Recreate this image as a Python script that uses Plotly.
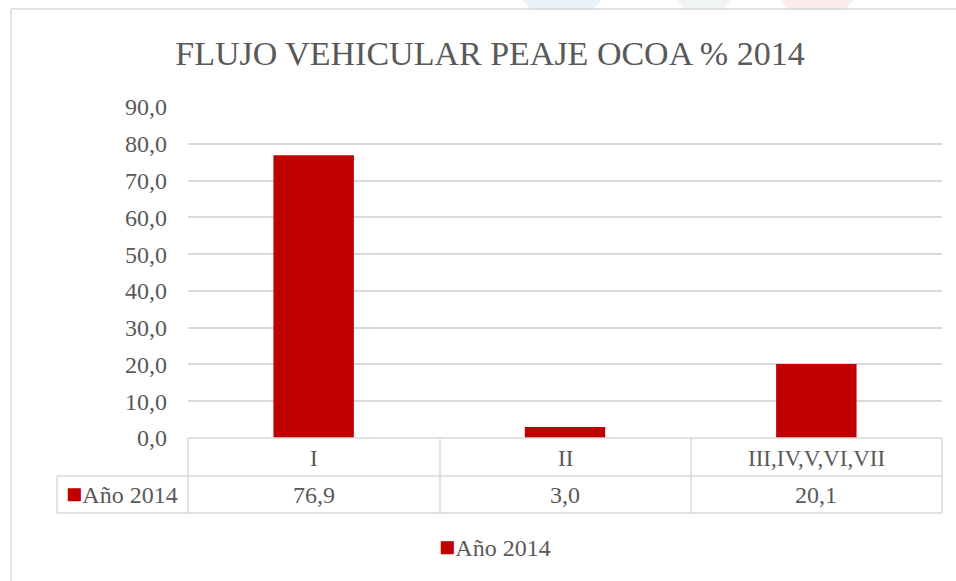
import plotly.graph_objects as go

categories = ["I", "II", "III,IV,V,VI,VII"]
values = [76.9, 3.0, 20.1]
series_name = "Año 2014"
title_text = "FLUJO VEHICULAR PEAJE OCOA % 2014"

W, H = 956, 581
# plot area in page pixels
L, R, T, B = 188, 942, 107, 438
pw, ph = R - L, B - T

def px_x(px):
    return (px - L) / pw

def px_y(py):
    return (B - py) / ph

bar_color = "#C00000"
grid = "#D9D9D9"
txt = "#595959"
font_main = "Liberation Serif"

fig = go.Figure()
fig.add_trace(go.Bar(x=categories, y=values, name=series_name,
                     marker=dict(color=bar_color, line=dict(width=0)),
                     width=0.32, showlegend=False, hoverinfo="skip"))

shapes = []
# faint background shapes at top
for x0, x1, col in [(522, 602, "rgba(120,180,230,0.18)"), (676, 732, "rgba(150,180,170,0.14)"),
                    (780, 854, "rgba(230,120,120,0.14)")]:
    shapes.append(dict(type="path", xref="paper", yref="paper",
                       path=f"M {px_x(x0)} {px_y(0)} L {px_x(x1)} {px_y(0)} L {px_x(x1-10)} {px_y(10)} L {px_x(x0+10)} {px_y(10)} Z",
                       fillcolor=col, line=dict(width=0), layer="below"))
# outer frame
shapes.append(dict(type="line", xref="paper", yref="paper", x0=px_x(11), x1=px_x(11),
                   y0=px_y(9), y1=px_y(600), line=dict(color=grid, width=1.5)))
shapes.append(dict(type="line", xref="paper", yref="paper", x0=px_x(11), x1=px_x(970),
                   y0=px_y(9), y1=px_y(9), line=dict(color=grid, width=1.5)))
# table lines
row1, row2 = 476, 513
col_px = [188, 440, 691, 942]
for yy in [row1, row2]:
    shapes.append(dict(type="line", xref="paper", yref="paper", x0=px_x(57), x1=px_x(942),
                       y0=px_y(yy), y1=px_y(yy), line=dict(color=grid, width=1.5)))
shapes.append(dict(type="line", xref="paper", yref="paper", x0=px_x(188), x1=px_x(942),
                   y0=px_y(438), y1=px_y(438), line=dict(color=grid, width=1.5)))
for cx in col_px:
    shapes.append(dict(type="line", xref="paper", yref="paper", x0=px_x(cx), x1=px_x(cx),
                       y0=px_y(438), y1=px_y(row2), line=dict(color=grid, width=1.5)))
shapes.append(dict(type="line", xref="paper", yref="paper", x0=px_x(57), x1=px_x(57),
                   y0=px_y(row1), y1=px_y(row2), line=dict(color=grid, width=1.5)))

annotations = []
for c, v in zip(categories, values):
    annotations.append(dict(x=c, xref="x", yref="paper", y=px_y(458), text=c,
                            xanchor="center", yanchor="middle",
                            showarrow=False, font=dict(family=font_main, size=23, color=txt)))
    annotations.append(dict(x=c, xref="x", yref="paper", y=px_y(495),
                            text=f"{v:.1f}".replace(".", ","),
                            xanchor="center", yanchor="middle",
                            showarrow=False, font=dict(family=font_main, size=24, color=txt)))
key = f"<span style='color:{bar_color};font-size:27px'>■</span>{series_name}"
annotations.append(dict(x=px_x(122), xref="paper", yref="paper", y=px_y(494),
                        text=key, xanchor="center", yanchor="middle",
                        showarrow=False, font=dict(family=font_main, size=24, color=txt)))
# bottom legend
annotations.append(dict(x=px_x(495), xref="paper", yref="paper", y=px_y(547),
                        text=key, xanchor="center", yanchor="middle",
                        showarrow=False, font=dict(family=font_main, size=24, color=txt)))

fig.update_layout(
    width=W, height=H,
    margin=dict(l=L, r=W - R, t=T, b=H - B, autoexpand=False),
    paper_bgcolor="white", plot_bgcolor="white",
    separators=",.",
    title=dict(text=title_text, x=490 / W, xanchor="center",
               y=1 - 53 / H, yanchor="middle",
               font=dict(family=font_main, size=34, color=txt)),
    xaxis=dict(showticklabels=False, showgrid=False, showline=False, zeroline=False, ticks=""),
    yaxis=dict(range=[0, 90], dtick=10, tickformat=".1f", showgrid=True, gridcolor=grid,
               gridwidth=1.5, zeroline=False, showline=False, ticks="", ticklabelstandoff=20,
               tickfont=dict(family=font_main, size=24, color=txt)),
    showlegend=False,
    shapes=shapes, annotations=annotations, bargap=0.68,
)

fig.write_html("out.html", config={"displayModeBar": False},
               post_script="document.body.style.margin='0px';document.body.style.overflow='hidden';")
